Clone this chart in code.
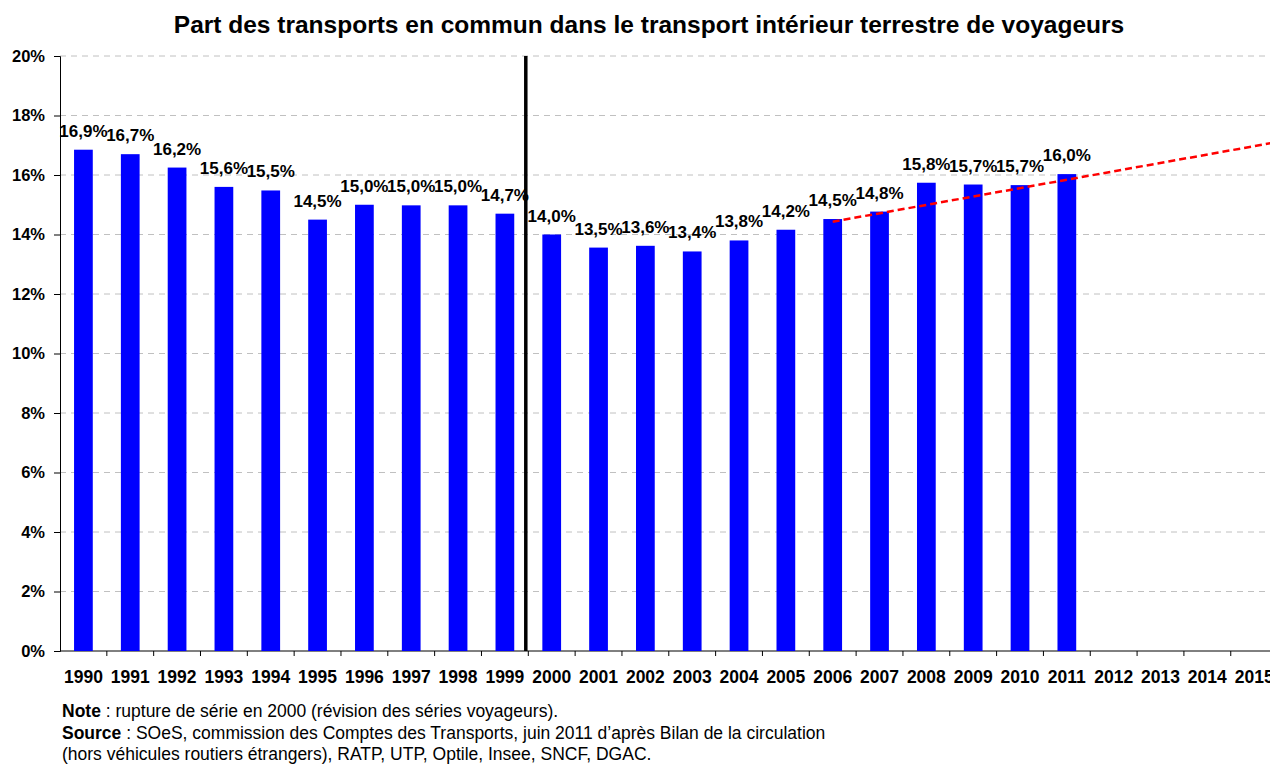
<!DOCTYPE html>
<html>
<head>
<meta charset="utf-8">
<script src="https://cdn.jsdelivr.net/npm/d3@7"></script>
<style>
  html, body { margin: 0; padding: 0; background: #fff; overflow: hidden; }
  svg { display: block; font-family: "Liberation Sans", Arial, sans-serif; }
</style>
</head>
<body>
<div id="chart-area"></div>
<script>
// Data
const years = ['1990', '1991', '1992', '1993', '1994', '1995', '1996', '1997', '1998', '1999', '2000',
  '2001', '2002', '2003', '2004', '2005', '2006', '2007', '2008', '2009', '2010', '2011',
  '2012', '2013', '2014', '2015'];
const shares = [16.85, 16.7, 16.25, 15.6, 15.48, 14.5, 15.0, 14.98, 14.98, 14.7, 14.0,
  13.56, 13.62, 13.43, 13.8, 14.16, 14.52, 14.77, 15.74, 15.68, 15.66, 16.03];
const shareLabels = ['16,9%', '16,7%', '16,2%', '15,6%', '15,5%', '14,5%', '15,0%', '15,0%', '15,0%', '14,7%', '14,0%',
  '13,5%', '13,6%', '13,4%', '13,8%', '14,2%', '14,5%', '14,8%', '15,8%', '15,7%', '15,7%', '16,0%'];
const yTicks = [0, 2, 4, 6, 8, 10, 12, 14, 16, 18, 20];
const trendYears = ['2006', '2015'];
const trendValues = [14.43, 16.97];
const breakYear = '2000';
const title = 'Part des transports en commun dans le transport intérieur terrestre de voyageurs';

const canvasWidth = 1270;
const canvasHeight = 764;
const margin = { left: 60, top: 56, bottom: 113 };
const step = 46.83;
const plotRight = margin.left + years.length * step;

const svg = d3
  .select('#chart-area')
  .append('svg')
  .attr('width', canvasWidth)
  .attr('height', canvasHeight);

const x = d3
  .scaleBand()
  .domain(years)
  .range([margin.left, plotRight])
  .paddingInner(0.6)
  .paddingOuter(0.3);
const y = d3
  .scaleLinear()
  .domain([0, 20])
  .range([canvasHeight - margin.bottom, margin.top]);
const center = d => x(d) + x.bandwidth() / 2;
const boundary = d => x(d) - x.step() * 0.3;

// Title
svg
  .append('text')
  .attr('x', 649)
  .attr('y', 33)
  .attr('text-anchor', 'middle')
  .attr('font-size', '24.5px')
  .attr('font-weight', 'bold')
  .text(title);

// Grid
svg
  .append('g')
  .selectAll('line')
  .data(yTicks.filter(d => d > 0))
  .enter()
  .append('line')
  .attr('x1', margin.left)
  .attr('x2', canvasWidth)
  .attr('y1', d => y(d))
  .attr('y2', d => y(d))
  .attr('stroke', '#c0c0c0')
  .attr('stroke-width', 1)
  .attr('stroke-dasharray', '6,5');

// Y axis
const yAxis = d3
  .axisLeft(y)
  .tickValues(yTicks)
  .tickSize(6)
  .tickPadding(9)
  .tickFormat(d => d + '%');
const yAxisGroup = svg
  .append('g')
  .attr('transform', `translate(${margin.left},0)`)
  .call(yAxis);
yAxisGroup.select('.domain').attr('stroke', '#000');
yAxisGroup.selectAll('line').attr('stroke', '#000');
yAxisGroup
  .selectAll('text')
  .attr('font-size', '16.5px')
  .attr('font-weight', 'bold')
  .attr('font-family', '"Liberation Sans", Arial, sans-serif')
  .attr('fill', '#000');

// X axis
const xAxisGroup = svg.append('g');
xAxisGroup
  .append('line')
  .attr('x1', margin.left)
  .attr('x2', plotRight)
  .attr('y1', y(0))
  .attr('y2', y(0))
  .attr('stroke', '#000');
xAxisGroup
  .selectAll('.tick-mark')
  .data(years)
  .enter()
  .append('line')
  .attr('class', 'tick-mark')
  .attr('x1', d => boundary(d) + x.step())
  .attr('x2', d => boundary(d) + x.step())
  .attr('y1', y(0))
  .attr('y2', y(0) + 5)
  .attr('stroke', '#000');
xAxisGroup
  .selectAll('.year')
  .data(years)
  .enter()
  .append('text')
  .attr('class', 'year')
  .attr('x', center)
  .attr('y', y(0) + 32)
  .attr('text-anchor', 'middle')
  .attr('font-size', '17.5px')
  .attr('font-weight', 'bold')
  .text(d => d);

// Bars
const barData = shares.map((v, i) => ({ year: years[i], value: v, label: shareLabels[i] }));
svg
  .append('g')
  .selectAll('rect')
  .data(barData)
  .enter()
  .append('rect')
  .attr('x', d => x(d.year))
  .attr('y', d => y(d.value))
  .attr('width', x.bandwidth())
  .attr('height', d => y(0) - y(d.value))
  .attr('fill', '#0000ff');

// Break line
svg
  .append('line')
  .attr('x1', boundary(breakYear) - 2.5)
  .attr('x2', boundary(breakYear) - 2.5)
  .attr('y1', y(20))
  .attr('y2', y(0))
  .attr('stroke', '#000')
  .attr('stroke-width', 3.5);

// Value labels
svg
  .append('g')
  .selectAll('text')
  .data(barData)
  .enter()
  .append('text')
  .attr('x', d => center(d.year))
  .attr('y', d => y(d.value) - 13)
  .attr('text-anchor', 'middle')
  .attr('font-size', '17px')
  .attr('font-weight', 'bold')
  .text(d => d.label);

// Trend line, extended to the right edge of the plot
const tx0 = center(trendYears[0]);
const tx1 = center(trendYears[1]);
const slope = (trendValues[1] - trendValues[0]) / (tx1 - tx0);
const trendEnd = trendValues[0] + slope * (plotRight - tx0);
svg
  .append('line')
  .attr('x1', tx0)
  .attr('y1', y(trendValues[0]))
  .attr('x2', plotRight)
  .attr('y2', y(trendEnd))
  .attr('stroke', '#ff0000')
  .attr('stroke-width', 2.5)
  .attr('stroke-dasharray', '7,4');

// Notes
const notes = svg
  .append('g')
  .attr('font-size', '17.5px');
const note1 = notes.append('text').attr('x', 62).attr('y', 717);
note1.append('tspan').attr('font-weight', 'bold').text('Note');
note1.append('tspan').text(' : rupture de série en 2000 (révision des séries voyageurs).');
const note2 = notes.append('text').attr('x', 62).attr('y', 739);
note2.append('tspan').attr('font-weight', 'bold').text('Source');
note2.append('tspan').text(' : SOeS, commission des Comptes des Transports, juin 2011 d’après Bilan de la circulation');
notes
  .append('text')
  .attr('x', 62)
  .attr('y', 760)
  .text('(hors véhicules routiers étrangers), RATP, UTP, Optile, Insee, SNCF, DGAC.');
</script>
</body>
</html>
